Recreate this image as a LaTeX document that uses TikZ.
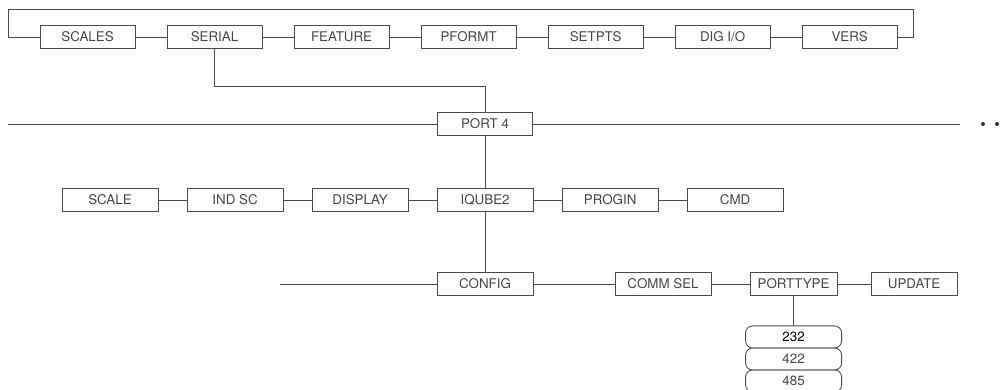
\documentclass[tikz,border=0pt]{standalone}
\usepackage{fontspec}
\setmainfont{TeX Gyre Heros}
\usepackage{tikz}
\usetikzlibrary{positioning}
\definecolor{linegray}{HTML}{4A4A4A}
\definecolor{textgray}{HTML}{454545}

\begin{document}
\begin{tikzpicture}[
  x=0.025cm, y=-0.025cm,
  menu/.style={draw=linegray, line width=0.6pt, text=textgray,
               minimum width=2.375cm, minimum height=0.575cm,
               inner sep=0pt, outer sep=0pt, font=\fontsize{9.5}{11}\selectfont},
  opt/.style={menu, rounded corners=5pt, minimum width=2.4cm,
              minimum height=0.55cm},
  dot/.style={circle, fill=black!80, minimum size=0.1cm, inner sep=0pt},
  link/.style={draw=linegray, line width=0.6pt},
  node distance=0.8cm
]
  \useasboundingbox (0,0) rectangle (1005,389);

  % - Hang tren: menu chinh -
  \node[menu] (scales) at (87.5,37) {SCALES};
  \node[menu, right=of scales]  (serial)  {SERIAL};
  \node[menu, right=of serial]  (feature) {FEATURE};
  \node[menu, right=of feature] (pformt)  {PFORMT};
  \node[menu, right=of pformt]  (setpts)  {SETPTS};
  \node[menu, right=of setpts]  (digio)   {DIG I/O};
  \node[menu, right=of digio]   (vers)    {VERS};

  % - Port 4 -
  \node[menu] (port4) at (485,124) {PORT 4};
  \node[dot] (dotA) at (983,124) {};
  \node[dot] (dotB) at (997,124) {};

  % - Hang giua: IQUBE2 -
  \node[menu, minimum width=2.4cm] (scale) at (110,200) {SCALE};
  \node[menu, minimum width=2.4cm, right=0.725cm of scale]   (indsc)   {IND SC};
  \node[menu, minimum width=2.4cm, right=0.725cm of indsc]   (display) {DISPLAY};
  \node[menu, minimum width=2.4cm, right=0.725cm of display] (iqube)   {IQUBE2};
  \node[menu, minimum width=2.4cm, right=0.725cm of iqube]   (progin)  {PROGIN};
  \node[menu, minimum width=2.4cm, right=0.725cm of progin]  (cmd)     {CMD};

  % - Hang duoi: CONFIG -
  \node[menu, minimum width=2.4cm] (config) at (485,284) {CONFIG};
  \node[menu, minimum width=2.4cm, right=2.05cm of config]    (commsel)  {COMM SEL};
  \node[menu, minimum width=2.175cm, right=0.975cm of commsel] (porttype) {PORTTYPE};
  \node[menu, minimum width=2.15cm, right=0.85cm of porttype]  (update)   {UPDATE};

  % - Lua chon -
  \node[opt, text=black, below=0.76cm of porttype] (p232) {232};
  \node[opt, below=0pt of p232] (p422) {422};
  \node[opt, below=0pt of p422] (p485) {485};

  % - Diem gay -
  \coordinate (loopL) at (8,9);
  \coordinate (loopR) at (913,9);
  \coordinate (split) at (485,86);
  \coordinate (portL) at (8,124);
  \coordinate (portR) at (960,124);
  \coordinate (cfgL)  at (280,284);

  % - Duong noi -
  \draw[link] (scales)  -- (serial);
  \draw[link] (serial)  -- (feature);
  \draw[link] (feature) -- (pformt);
  \draw[link] (pformt)  -- (setpts);
  \draw[link] (setpts)  -- (digio);
  \draw[link] (digio)   -- (vers);
  \draw[link] (scales.west) -| (loopL) -- (loopR) |- (vers.east);
  \draw[link] (serial.south) |- (split) -- (port4.north);

  \draw[link] (portL) -- (port4.west);
  \draw[link] (port4.east) -- (portR);
  \draw[link] (port4.south) -- (port4.south |- iqube.north);

  \draw[link] (scale)   -- (indsc);
  \draw[link] (indsc)   -- (display);
  \draw[link] (display) -- (iqube);
  \draw[link] (iqube)   -- (progin);
  \draw[link] (progin)  -- (cmd);
  \draw[link] (port4.south |- iqube.south) -- (port4.south |- config.north);

  \draw[link] (cfgL)     -- (config.west);
  \draw[link] (config)   -- (commsel);
  \draw[link] (commsel)  -- (porttype);
  \draw[link] (porttype) -- (update);
  \draw[link] (porttype.south) -- (porttype.south |- p232.north);
\end{tikzpicture}
\end{document}
